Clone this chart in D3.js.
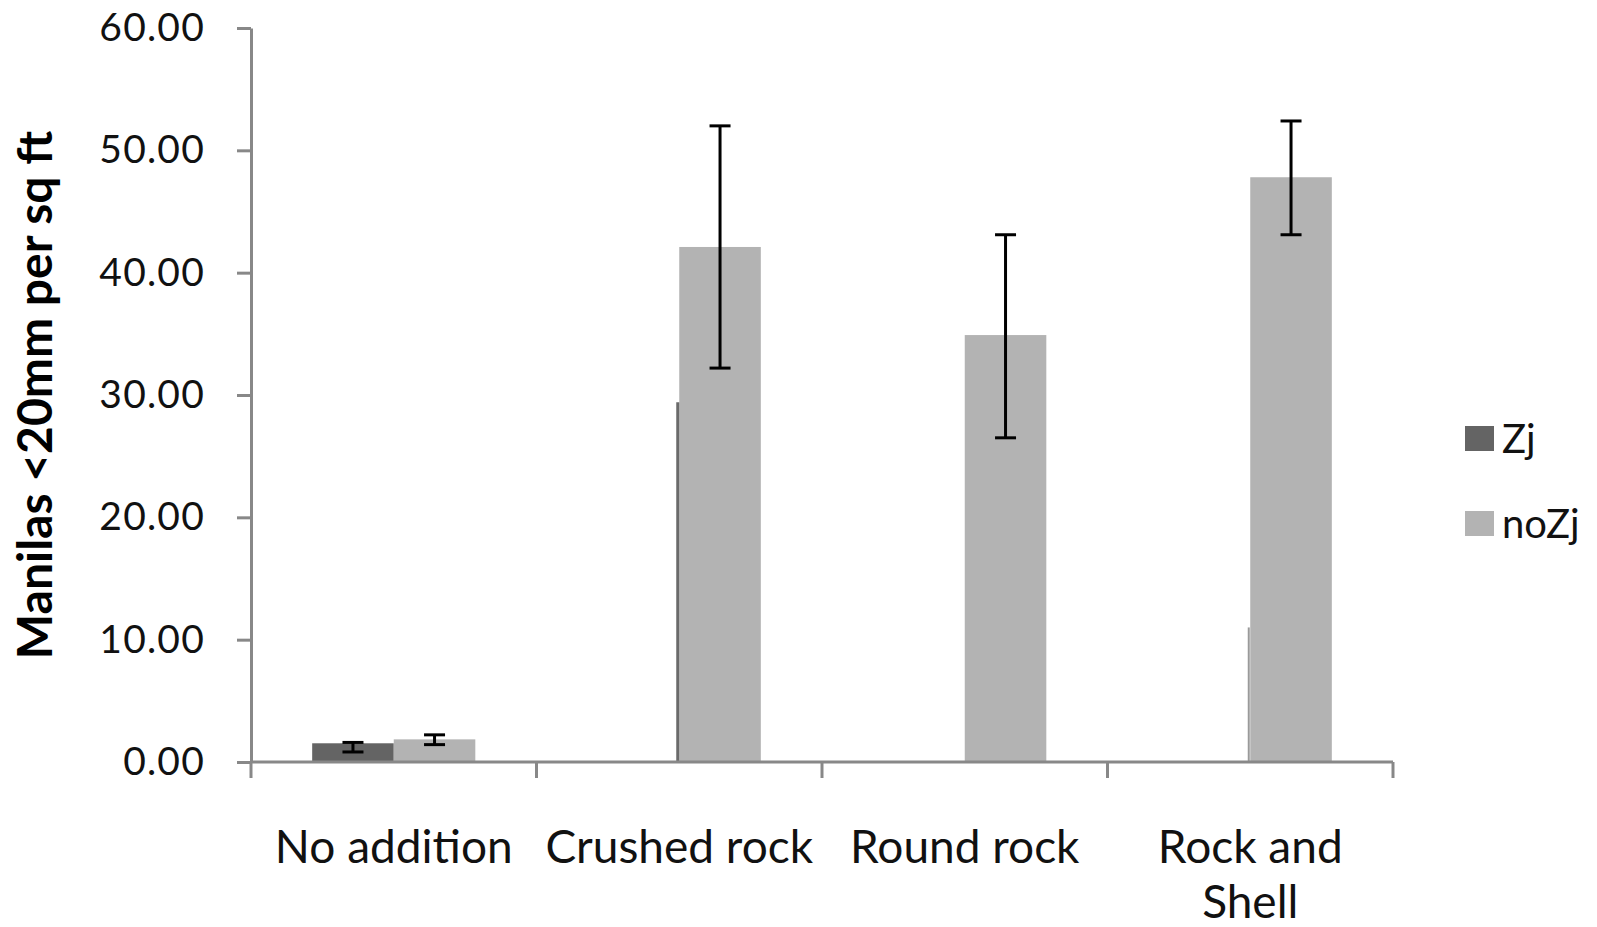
<!DOCTYPE html>
<html>
<head>
<meta charset="utf-8">
<script src="https://cdn.jsdelivr.net/npm/d3@7"></script>
<style>
  html, body { margin: 0; padding: 0; background: #fff; }
  svg { display: block; }
</style>
</head>
<body>
<svg id="chart" width="1597" height="927"></svg>
<script>
// Treatment categories (x axis) and the two series
const categories = ["No addition", "Crushed rock", "Round rock", "Rock and Shell"];
const categoryLines = [["No addition"], ["Crushed rock"], ["Round rock"], ["Rock and", "Shell"]];
const seriesNames = ["Zj", "noZj"];

// Mean density of Manilas <20mm per sq ft
const zjValues   = [1.53, 0, 0, 0];
const noZjValues = [1.85, 42.1, 34.9, 47.8];

// Error bar bounds (null = no error bar drawn)
const zjErrLow    = [0.82, null, null, null];
const zjErrHigh   = [1.60, null, null, null];
const noZjErrLow  = [1.42, 32.2, 26.5, 43.1];
const noZjErrHigh = [2.22, 52.0, 43.1, 52.4];

// Thin Zj traces along the inner edge of the Zj slot
const zjTrace = [null, 29.4, null, 11.0];

// Y axis ticks
const yTicks = [0, 10, 20, 30, 40, 50, 60];

const colors = { Zj: "#646464", noZj: "#b3b3b3" };
const axisColor = "#888888";
const FONT = "Lato, 'Open Sans', sans-serif";

const svg = d3.select("#chart");
const plotLeft = 251, plotRight = 1393, plotTop = 28, plotBottom = 762;

const y = d3.scaleLinear().domain([0, 60]).range([plotBottom, plotTop]);
const x0 = d3.scaleBand().domain(categories).range([plotLeft, plotRight]).padding(0);
const x1 = d3.scaleBand().domain(seriesNames).range([0, x0.bandwidth()])
  .paddingInner(0).paddingOuter(0.75);

const rows = categories.map((c, i) => ({
  cat: c,
  bars: [
    { s: "Zj", v: zjValues[i], lo: zjErrLow[i], hi: zjErrHigh[i] },
    { s: "noZj", v: noZjValues[i], lo: noZjErrLow[i], hi: noZjErrHigh[i] }
  ],
  trace: zjTrace[i]
}));

// Bars
const groups = svg.append("g").selectAll("g").data(rows).join("g")
  .attr("transform", d => `translate(${x0(d.cat)},0)`);

groups.selectAll("rect.bar").data(d => d.bars).join("rect")
  .attr("class", "bar")
  .attr("x", d => x1(d.s))
  .attr("width", x1.bandwidth())
  .attr("y", d => y(d.v))
  .attr("height", d => y(0) - y(d.v))
  .attr("fill", d => colors[d.s]);

// Thin traces of Zj at the Zj/noZj seam
groups.filter(d => d.trace != null).append("line")
  .attr("x1", x1("noZj") - 1.5).attr("x2", x1("noZj") - 1.5)
  .attr("y1", y(0)).attr("y2", d => y(d.trace))
  .attr("stroke", (d, i) => i === 0 ? "#6a6a6a" : "#9a9a9a")
  .attr("stroke-width", (d, i) => i === 0 ? 3 : 2);

// Y axis
const yAxis = d3.axisLeft(y).tickValues(yTicks).tickFormat(d3.format(".2f"))
  .tickSizeInner(14).tickSizeOuter(0).tickPadding(32);
const gy = svg.append("g").attr("transform", `translate(${plotLeft},0)`).call(yAxis);
gy.select(".domain").attr("stroke", axisColor).attr("stroke-width", 3);
gy.selectAll(".tick line").attr("stroke", axisColor).attr("stroke-width", 3);
gy.selectAll(".tick text")
  .attr("font-family", FONT).attr("font-size", 39).attr("fill", "#111")
  .attr("letter-spacing", 1.2);

// X axis baseline and category dividers
const bounds = categories.map(c => x0(c)).concat([plotRight]);
svg.append("line").attr("x1", plotLeft).attr("x2", plotRight).attr("y1", y(0)).attr("y2", y(0))
  .attr("stroke", axisColor).attr("stroke-width", 3);
svg.append("g").selectAll("line").data(bounds).join("line")
  .attr("x1", d => d).attr("x2", d => d)
  .attr("y1", y(0)).attr("y2", y(0) + 16)
  .attr("stroke", axisColor).attr("stroke-width", 3);

// Error bars
const errs = groups.selectAll("g.err").data(d => d.bars.filter(b => b.lo != null)).join("g")
  .attr("class", "err")
  .attr("transform", d => `translate(${x1(d.s) + x1.bandwidth() / 2},0)`);
errs.append("line").attr("x1", 0).attr("x2", 0)
  .attr("y1", d => y(d.lo)).attr("y2", d => y(d.hi))
  .attr("stroke", "#000").attr("stroke-width", 3);
errs.selectAll("line.cap").data(d => [d.lo, d.hi]).join("line")
  .attr("class", "cap")
  .attr("x1", -10.5).attr("x2", 10.5)
  .attr("y1", d => y(d)).attr("y2", d => y(d))
  .attr("stroke", "#000").attr("stroke-width", 3);

// Category labels
svg.append("g").selectAll("text").data(categories).join("text")
  .attr("x", d => x0(d) + x0.bandwidth() / 2)
  .attr("y", 863)
  .attr("text-anchor", "middle")
  .attr("font-family", FONT).attr("font-size", 46).attr("fill", "#111")
  .selectAll("tspan").data((d, i) => categoryLines[i]).join("tspan")
  .attr("x", function () { return d3.select(this.parentNode).attr("x"); })
  .attr("dy", (d, i) => i === 0 ? 0 : 55)
  .text(d => d);

// Y axis title
svg.append("text")
  .attr("transform", `translate(52,395) rotate(-90)`)
  .attr("text-anchor", "middle")
  .attr("font-family", FONT).attr("font-weight", "bold").attr("font-size", 48)
  .attr("fill", "#000")
  .text("Manilas <20mm per sq ft");

// Legend
const legend = svg.append("g").selectAll("g").data(seriesNames).join("g")
  .attr("transform", (d, i) => `translate(1465,${426 + i * 85})`);
legend.append("rect").attr("width", 29).attr("height", 25).attr("fill", d => colors[d]);
legend.append("text").attr("x", 37).attr("y", 12.5).attr("dy", "0.36em")
  .attr("font-family", FONT).attr("font-size", 40).attr("fill", "#111")
  .text(d => d);
</script>
</body>
</html>
